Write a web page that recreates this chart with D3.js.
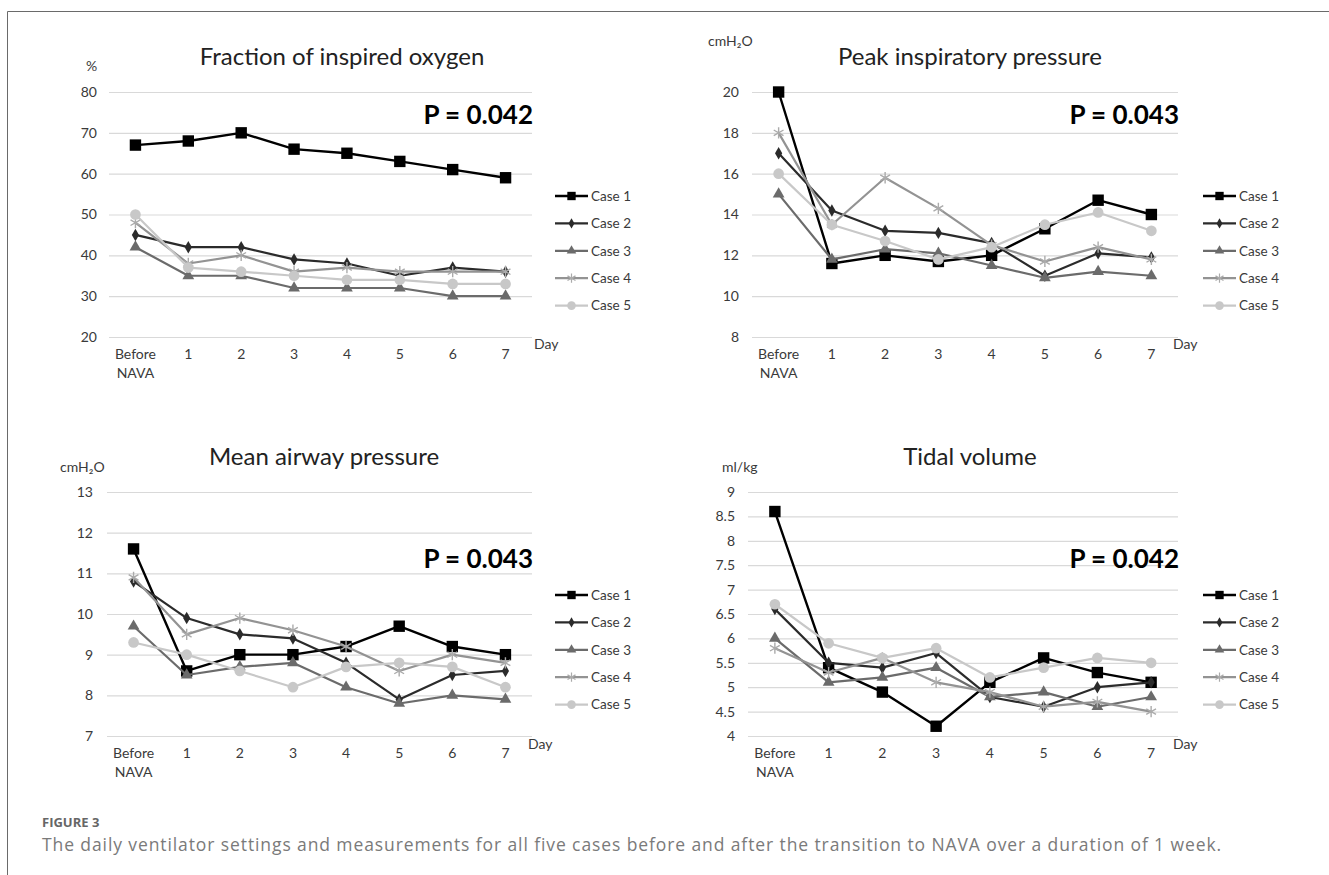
<!DOCTYPE html>
<html>
<head>
<meta charset="utf-8">
<script src="https://cdn.jsdelivr.net/npm/d3@7"></script>
<style>
  body { margin: 0; background: #fff; }
  svg { display: block; }
</style>
</head>
<body>
<svg id="fig" width="1329" height="875"></svg>
<script>
// categories
var days = ["Before NAVA", "1", "2", "3", "4", "5", "6", "7"];
var caseNames = ["Case 1", "Case 2", "Case 3", "Case 4", "Case 5"];

// fraction of inspired oxygen (%), one row per case
var fio2Values = [
  [67, 68, 70, 66, 65, 63, 61, 59],
  [45, 42, 42, 39, 38, 35, 37, 36],
  [42, 35, 35, 32, 32, 32, 30, 30],
  [48, 38, 40, 36, 37, 36, 36, 36],
  [50, 37, 36, 35, 34, 34, 33, 33]
];
var fio2Ticks = [20, 30, 40, 50, 60, 70, 80];

// peak inspiratory pressure (cmH2O)
var pipValues = [
  [20, 11.6, 12, 11.7, 12, 13.3, 14.7, 14],
  [17, 14.2, 13.2, 13.1, 12.6, 11, 12.1, 11.9],
  [15, 11.8, 12.3, 12.1, 11.5, 10.9, 11.2, 11],
  [18, 13.5, 15.8, 14.3, 12.5, 11.7, 12.4, 11.8],
  [16, 13.5, 12.7, 11.8, 12.4, 13.5, 14.1, 13.2]
];
var pipTicks = [8, 10, 12, 14, 16, 18, 20];

// mean airway pressure (cmH2O)
var mapValues = [
  [11.6, 8.6, 9, 9, 9.2, 9.7, 9.2, 9],
  [10.8, 9.9, 9.5, 9.4, 8.8, 7.9, 8.5, 8.6],
  [9.7, 8.5, 8.7, 8.8, 8.2, 7.8, 8, 7.9],
  [10.9, 9.5, 9.9, 9.6, 9.2, 8.6, 9, 8.8],
  [9.3, 9, 8.6, 8.2, 8.7, 8.8, 8.7, 8.2]
];
var mapTicks = [7, 8, 9, 10, 11, 12, 13];

// tidal volume (ml/kg)
var tvValues = [
  [8.6, 5.4, 4.9, 4.2, 5.1, 5.6, 5.3, 5.1],
  [6.6, 5.5, 5.4, 5.7, 4.8, 4.6, 5.0, 5.1],
  [6.0, 5.1, 5.2, 5.4, 4.8, 4.9, 4.6, 4.8],
  [5.8, 5.3, 5.6, 5.1, 4.9, 4.6, 4.7, 4.5],
  [6.7, 5.9, 5.6, 5.8, 5.2, 5.4, 5.6, 5.5]
];
var tvTicks = [4, 4.5, 5, 5.5, 6, 6.5, 7, 7.5, 8, 8.5, 9];

var titles = ["Fraction of inspired oxygen", "Peak inspiratory pressure", "Mean airway pressure", "Tidal volume"];
var units = ["%", "cmH\u2082O", "cmH\u2082O", "ml/kg"];
var pLabels = ["P = 0.042", "P = 0.043", "P = 0.043", "P = 0.042"];

// look of each case line (Excel greyscale style)
var caseStyle = [
  { color: "#000000", mark: "#000000", symbol: d3.symbolSquare, size: 130, lsize: 70, fill: true, width: 2.4 },
  { color: "#2b2b2b", mark: "#2b2b2b", symbol: d3.symbolDiamond, size: 45, lsize: 30, fill: true, width: 2.2 },
  { color: "#6b6b6b", mark: "#6b6b6b", symbol: d3.symbolTriangle, size: 60, lsize: 40, fill: true, width: 2.2 },
  { color: "#939393", mark: "#ababab", symbol: d3.symbolAsterisk, size: 90, lsize: 60, fill: false, width: 2.2 },
  { color: "#c8c8c8", mark: "#c8c8c8", symbol: d3.symbolCircle, size: 90, lsize: 60, fill: true, width: 2.2 }
];

var font = "Lato, 'Open Sans', sans-serif";
var svg = d3.select("#fig");

svg.append("rect").attr("width", 1329).attr("height", 875).attr("fill", "#fff");

// frame of the figure box
svg.append("path")
  .attr("d", "M7.5,875 L7.5,11.5 L1329,11.5")
  .attr("fill", "none")
  .attr("stroke", "#6a6a6a")
  .attr("stroke-width", 1);

var panels = [
  { values: fio2Values, ticks: fio2Ticks, x0: 109, x1: 532, top: 92, bottom: 337, tickRight: 97,
    unitX: 86, unitY: 66, titleX: 342, titleY: 57, pY: 115, legX: 555, legY: 196, dayX: 534, dayY: 344 },
  { values: pipValues, ticks: pipTicks, x0: 752, x1: 1178, top: 92, bottom: 337, tickRight: 739,
    unitX: 708, unitY: 41, titleX: 970, titleY: 57, pY: 115, legX: 1203, legY: 196, dayX: 1173, dayY: 344 },
  { values: mapValues, ticks: mapTicks, x0: 107, x1: 532, top: 492, bottom: 736, tickRight: 93,
    unitX: 60, unitY: 467, titleX: 324, titleY: 457, pY: 559, legX: 555, legY: 595, dayX: 528, dayY: 744 },
  { values: tvValues, ticks: tvTicks, x0: 748, x1: 1178, top: 492, bottom: 736, tickRight: 735,
    unitX: 722, unitY: 467, titleX: 970, titleY: 457, pY: 559, legX: 1203, legY: 595, dayX: 1173, dayY: 744 }
];

panels.forEach(function(p, i) {
  var g = svg.append("g").attr("class", "panel");

  var x = d3.scaleBand().domain(days).range([p.x0, p.x1]);
  var y = d3.scaleLinear()
    .domain([p.ticks[0], p.ticks[p.ticks.length - 1]])
    .range([p.bottom, p.top]);

  function cx(d, j) { return x(days[j]) + x.bandwidth() / 2; }

  // gridlines + y tick labels
  var yAxis = g.append("g")
    .attr("transform", "translate(" + p.x0 + ",0)")
    .call(d3.axisLeft(y).tickValues(p.ticks).tickSize(-(p.x1 - p.x0)).tickPadding(p.x0 - p.tickRight)
      .tickFormat(function(d) { return d; }));
  yAxis.select(".domain").remove();
  yAxis.selectAll(".tick line").attr("stroke", "#d9d9d9").attr("stroke-width", 1.2);
  yAxis.selectAll(".tick text")
    .attr("fill", "#3a3a3a")
    .style("font-family", font)
    .style("font-size", "14px");

  // x tick labels
  var xAxis = g.append("g")
    .attr("transform", "translate(0," + p.bottom + ")")
    .call(d3.axisBottom(x).tickSize(0).tickPadding(12));
  xAxis.select(".domain").remove();
  xAxis.selectAll(".tick text")
    .attr("fill", "#3a3a3a")
    .style("font-family", font)
    .style("font-size", "14px")
    .each(function(d) {
      var t = d3.select(this);
      if (d.indexOf(" ") > 0) {
        var parts = d.split(" ");
        t.text(null);
        t.append("tspan").attr("x", 0).text(parts[0]);
        t.append("tspan").attr("x", 0).attr("dy", "1.35em").text(parts[1]);
      }
    });

  g.append("text")
    .attr("x", p.dayX).attr("y", p.dayY)
    .attr("dy", "0.35em")
    .attr("fill", "#3a3a3a")
    .style("font-family", font).style("font-size", "14px")
    .text("Day");

  g.append("text")
    .attr("x", p.unitX).attr("y", p.unitY)
    .attr("dy", "0.35em")
    .attr("fill", "#3a3a3a")
    .style("font-family", font).style("font-size", "14px")
    .text(units[i]);

  g.append("text")
    .attr("x", p.titleX).attr("y", p.titleY)
    .attr("dy", "0.35em")
    .attr("text-anchor", "middle")
    .attr("fill", "#222")
    .style("font-family", font).style("font-size", "24px")
    .text(titles[i]);

  g.append("text")
    .attr("x", p.x1 + 1).attr("y", p.pY)
    .attr("dy", "0.35em")
    .attr("text-anchor", "end")
    .attr("fill", "#000")
    .style("font-family", font).style("font-size", "26px").style("font-weight", "bold")
    .text(pLabels[i]);

  var line = d3.line()
    .x(cx)
    .y(function(d) { return y(d); });

  p.values.forEach(function(vals, k) {
    var s = caseStyle[k];
    g.append("path")
      .datum(vals)
      .attr("d", line)
      .attr("fill", "none")
      .attr("stroke", s.color)
      .attr("stroke-width", s.width)
      .attr("stroke-linejoin", "round");

    g.selectAll(".m" + k)
      .data(vals)
      .enter().append("path")
      .attr("class", "m" + k)
      .attr("transform", function(d, j) { return "translate(" + cx(d, j) + "," + y(d) + ")"; })
      .attr("d", d3.symbol().type(s.symbol).size(s.size))
      .attr("fill", s.fill ? s.mark : "none")
      .attr("stroke", s.fill ? "none" : s.mark)
      .attr("stroke-width", s.fill ? 0 : 1.4);
  });

  // legend
  var leg = g.append("g").selectAll("g")
    .data(caseNames)
    .enter().append("g")
    .attr("transform", function(d, k) { return "translate(" + p.legX + "," + (p.legY + k * 27.4) + ")"; });

  leg.append("line")
    .attr("x1", 0).attr("x2", 33)
    .attr("stroke", function(d, k) { return caseStyle[k].color; })
    .attr("stroke-width", function(d, k) { return caseStyle[k].width; });

  leg.append("path")
    .attr("transform", "translate(16.5,0)")
    .attr("d", function(d, k) { return d3.symbol().type(caseStyle[k].symbol).size(caseStyle[k].lsize)(); })
    .attr("fill", function(d, k) { return caseStyle[k].fill ? caseStyle[k].mark : "none"; })
    .attr("stroke", function(d, k) { return caseStyle[k].fill ? "none" : caseStyle[k].mark; })
    .attr("stroke-width", 1.2);

  leg.append("text")
    .attr("x", 36).attr("dy", "0.35em")
    .attr("fill", "#3a3a3a")
    .style("font-family", font).style("font-size", "13.5px")
    .text(function(d) { return d; });
});

// caption
svg.append("text")
  .attr("x", 42).attr("y", 827)
  .attr("fill", "#666")
  .style("font-family", "'Open Sans', sans-serif").style("font-size", "13px").style("font-weight", "bold")
  .text("FIGURE 3");

svg.append("text")
  .attr("x", 42).attr("y", 851)
  .attr("fill", "#7a7a7a")
  .style("font-family", "'Open Sans', sans-serif").style("font-size", "17.5px").style("letter-spacing", "0.9px")
  .text("The daily ventilator settings and measurements for all five cases before and after the transition to NAVA over a duration of 1 week.");
</script>
</body>
</html>
